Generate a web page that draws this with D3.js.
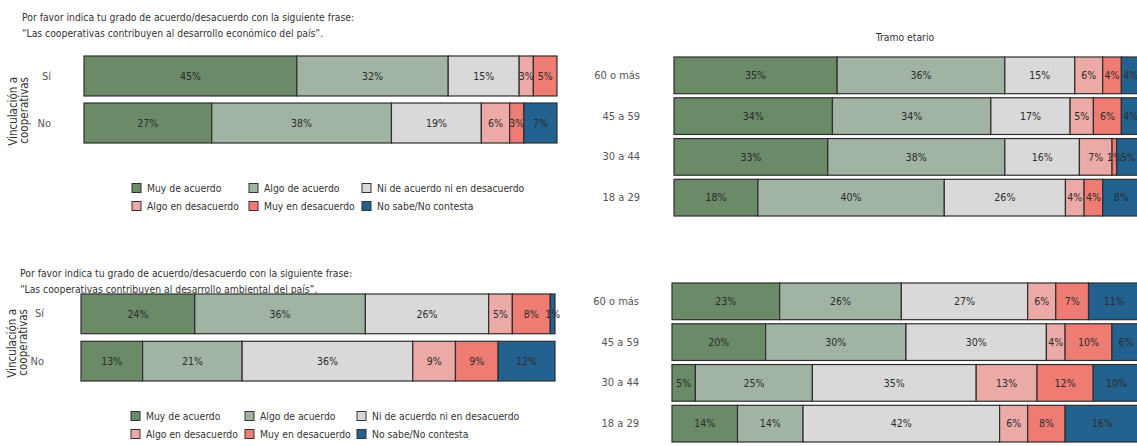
<!DOCTYPE html>
<html>
<head>
<meta charset="utf-8">
<script src="https://cdn.jsdelivr.net/npm/d3@7"></script>
<style>
  html, body { margin: 0; padding: 0; background: #ffffff; }
  svg { display: block; }
  text { font-family: "DejaVu Sans Condensed", "Liberation Sans Narrow", sans-serif; }
</style>
</head>
<body>
<svg id="chart" width="1137" height="446"></svg>
<script>
// ---------- DATA ----------
const responses = ["Muy de acuerdo", "Algo de acuerdo", "Ni de acuerdo ni en desacuerdo",
                   "Algo en desacuerdo", "Muy en desacuerdo", "No sabe/No contesta"];
const colors = ["#6a8a68", "#a1b4a3", "#d9d9d9", "#ebaaa6", "#ef7c73", "#23618f"];

const vinculoCats = ["Sí", "No"];
const edadCats = ["60 o más", "45 a 59", "30 a 44", "18 a 29"];

// Económico
const ecoVinculo = [
  [45, 32, 15, 3, 5, 0],   // Sí
  [27, 38, 19, 6, 3, 7]    // No
];
const ecoEdad = [
  [35, 36, 15, 6, 4, 4],   // 60 o más
  [34, 34, 17, 5, 6, 4],   // 45 a 59
  [33, 38, 16, 7, 1, 5],   // 30 a 44
  [18, 40, 26, 4, 4, 8]    // 18 a 29
];
// Ambiental
const ambVinculo = [
  [24, 36, 26, 5, 8, 1],   // Sí
  [13, 21, 36, 9, 9, 12]   // No
];
const ambEdad = [
  [23, 26, 27, 6, 7, 11],  // 60 o más
  [20, 30, 30, 4, 10, 6],  // 45 a 59
  [5, 25, 35, 13, 12, 10], // 30 a 44
  [14, 14, 42, 6, 8, 16]   // 18 a 29
];

const titleEco = ["Por favor indica tu grado de acuerdo/desacuerdo con la siguiente frase:",
                  "“Las cooperativas contribuyen al desarrollo económico del país”."];
const titleAmb = ["Por favor indica tu grado de acuerdo/desacuerdo con la siguiente frase:",
                  "“Las cooperativas contribuyen al desarrollo ambiental del país”."];
const vinculoTitle = ["Vinculación a", "cooperativas"];
const edadTitle = "Tramo etario";

// ---------- DRAW ----------
const svg = d3.select("#chart");
const color = d3.scaleOrdinal().domain(responses).range(colors);

function stackRows(cats, rows) {
  const table = cats.map((c, i) => {
    const o = { cat: c };
    responses.forEach((r, j) => o[r] = rows[i][j]);
    return o;
  });
  return d3.stack().keys(responses)(table);
}

function drawBars(g, cats, rows, xr, yr, pad, tickPad) {
  const x = d3.scaleLinear().domain([0, 100]).range(xr);
  const y = d3.scaleBand().domain(cats).range(yr).paddingInner(pad);
  const series = stackRows(cats, rows);

  const layers = g.append("g").selectAll("g").data(series).join("g")
    .attr("fill", d => color(d.key));
  layers.selectAll("rect").data(d => d.filter(p => p[1] - p[0] > 0)).join("rect")
    .attr("x", d => x(d[0]))
    .attr("y", d => y(d.data.cat))
    .attr("width", d => x(d[1]) - x(d[0]))
    .attr("height", y.bandwidth())
    .attr("stroke", "#2e2e2e")
    .attr("stroke-width", 1.2);

  const labels = g.append("g");
  series.forEach(s => {
    s.filter(p => p[1] - p[0] > 0).forEach(p => {
      labels.append("text")
        .attr("x", (x(p[0]) + x(p[1])) / 2)
        .attr("y", y(p.data.cat) + y.bandwidth() / 2)
        .attr("dy", "0.35em")
        .attr("text-anchor", "middle")
        .attr("font-size", 10.5)
        .attr("fill", "#2b2b2b")
        .text(d3.format(".0f")(p[1] - p[0]) + "%");
    });
  });

  const axis = d3.axisLeft(y).tickSize(0).tickPadding(tickPad);
  const ax = g.append("g").attr("transform", `translate(${xr[0]},0)`).call(axis);
  ax.select(".domain").remove();
  ax.selectAll("text")
    .attr("font-family", "'DejaVu Sans Condensed', sans-serif")
    .attr("font-size", 11).attr("fill", "#555");
  return { x, y };
}

function drawTitle(lines, x, y) {
  lines.forEach((t, i) => {
    svg.append("text").attr("x", x).attr("y", y + i * 15.5)
      .attr("font-size", 10.3).attr("fill", "#333").text(t);
  });
}

function drawVTitle(lines, cx, yEnd) {
  lines.forEach((t, i) => {
    svg.append("text")
      .attr("transform", `translate(${cx + i * 11},${yEnd}) rotate(-90)`)
      .attr("text-anchor", "end")
      .attr("font-size", 11.5).attr("fill", "#333").text(t);
  });
}

function drawLegend(cols, rowsY) {
  responses.forEach((k, i) => {
    const cx = cols[i % 3], cy = rowsY[Math.floor(i / 3)];
    svg.append("rect").attr("x", cx).attr("y", cy - 4.5).attr("width", 9).attr("height", 9)
      .attr("fill", color(k)).attr("stroke", "#333").attr("stroke-width", 1);
    svg.append("text").attr("x", cx + 15).attr("y", cy).attr("dy", "0.35em")
      .attr("font-size", 10.3).attr("fill", "#333").text(k);
  });
}

// Top-left
drawTitle(titleEco, 22, 21);
drawVTitle(vinculoTitle, 17, 77);
drawBars(svg.append("g"), vinculoCats, ecoVinculo, [84, 557], [56, 143], 0.15, 33);
drawLegend([132, 249, 362], [188, 206]);

// Top-right
svg.append("text").attr("x", 905).attr("y", 41).attr("text-anchor", "middle")
  .attr("font-size", 10.3).attr("fill", "#333").text(edadTitle);
drawBars(svg.append("g"), edadCats, ecoEdad, [674, 1140], [57, 216], 0.1, 34);

// Bottom-left
drawTitle(titleAmb, 20, 277);
drawVTitle(vinculoTitle, 16, 309);
drawBars(svg.append("g"), vinculoCats, ambVinculo, [81, 555], [294, 381], 0.16, 37);
drawLegend([131, 245, 357], [416, 434]);

// Bottom-right
svg.append("text").attr("x", 905).attr("y", 294).attr("text-anchor", "middle")
  .attr("font-size", 10.3).attr("fill", "#333").text(edadTitle);
drawBars(svg.append("g"), edadCats, ambEdad, [672, 1140], [283, 442], 0.1, 33);
</script>
</body>
</html>
